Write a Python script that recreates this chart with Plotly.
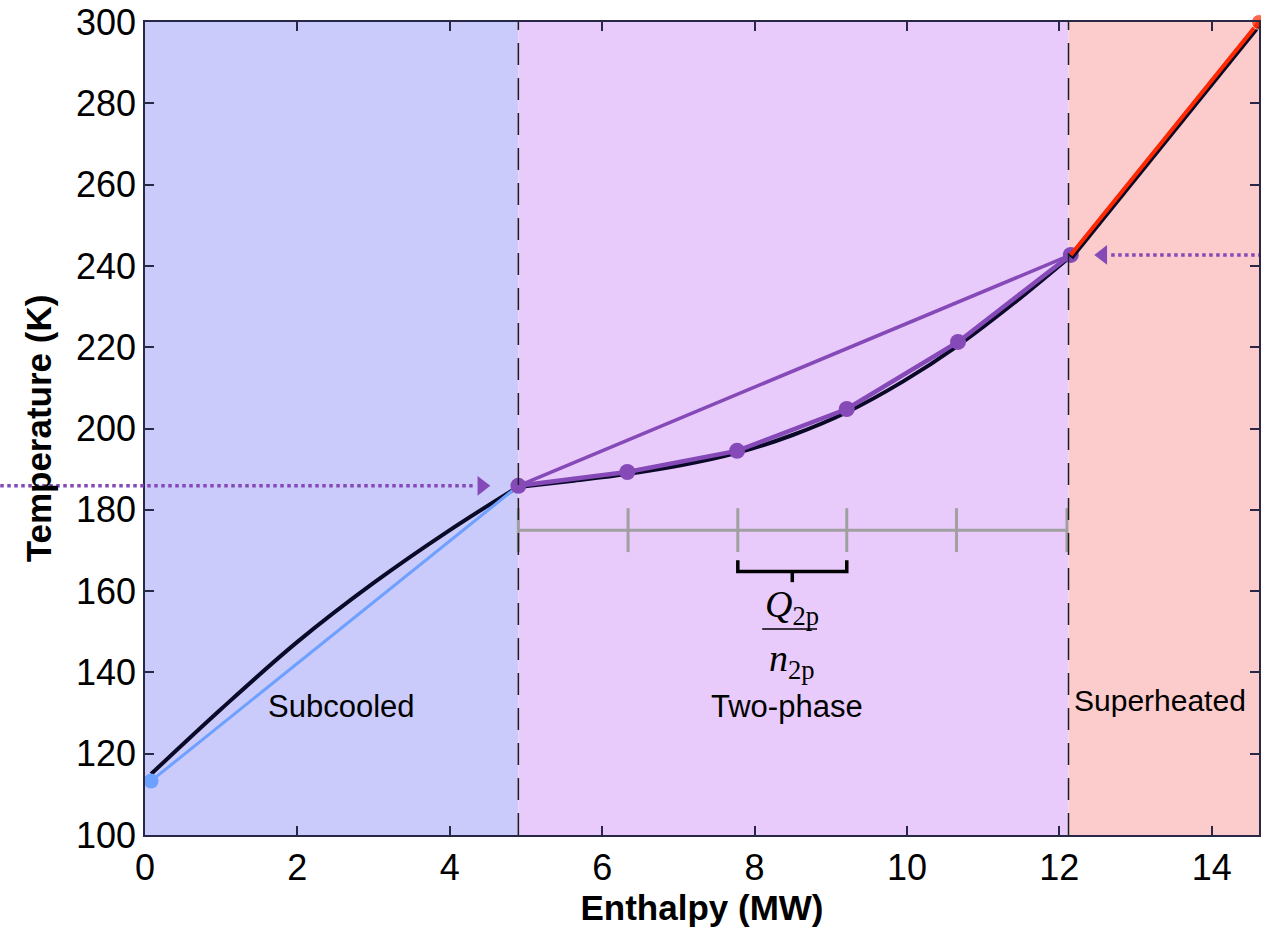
import plotly.graph_objects as go

# --- data ---
x_range = [0, 14.62]
y_range = [100, 300]
x_sub_end = 4.9
x_sup_start = 12.12

sub_line_x = [0.08, 4.9]
sub_line_y = [113.3, 185.9]
sub_curve_x = [0.08, 1.0, 2.0, 3.0, 4.0, 4.9]
sub_curve_y = [115.0, 131.0, 147.5, 162.0, 175.0, 185.7]

tp_x = [4.9, 6.33, 7.77, 9.21, 10.67, 12.15]
tp_y = [185.9, 189.3, 194.5, 204.8, 221.3, 242.7]
tp_curve_x = [4.9, 5.6, 6.33, 7.05, 7.77, 8.5, 9.21, 9.95, 10.67, 11.4, 12.15]
tp_curve_y = [185.6, 187.1, 188.8, 191.0, 194.0, 198.4, 204.0, 211.6, 220.4, 230.8, 242.4]

sh_x = [12.15, 14.62]
sh_y = [242.7, 300.0]

seg_x = [4.9, 6.34, 7.78, 9.21, 10.65, 12.1]
seg_y = 175.0

arrow_left_y = 185.9
arrow_right_y = 242.7

C_SUB = "rgb(202,202,251)"
C_TP = "rgb(232,203,251)"
C_SH = "rgb(252,203,203)"
PURPLE = "rgb(133,73,184)"
BLUE = "rgb(110,160,255)"
RED = "rgb(255,40,0)"
DARK = "rgb(10,10,40)"
GREY = "rgb(160,160,160)"

fig = go.Figure()

# background regions
for x0, x1, c in [(x_range[0], x_sub_end, C_SUB), (x_sub_end, x_sup_start, C_TP), (x_sup_start, x_range[1], C_SH)]:
    fig.add_shape(type="rect", xref="x", yref="y", x0=x0, x1=x1, y0=y_range[0], y1=y_range[1],
                  fillcolor=c, line=dict(width=0), layer="below")

# dashed boundaries
for xv in [x_sub_end, x_sup_start]:
    fig.add_shape(type="line", xref="x", yref="y", x0=xv, x1=xv, y0=y_range[0], y1=y_range[1],
                  line=dict(color="rgb(30,30,30)", width=1.5, dash="22px,13px"))

# segment bar
fig.add_trace(go.Scatter(x=[seg_x[0], seg_x[-1]], y=[seg_y, seg_y], mode="lines",
                         line=dict(color=GREY, width=3), hoverinfo="skip", showlegend=False))
for sx in seg_x:
    fig.add_trace(go.Scatter(x=[sx, sx], y=[seg_y - 5.4, seg_y + 5.4], mode="lines",
                             line=dict(color=GREY, width=3), hoverinfo="skip", showlegend=False))

# brace
bx0, bx1 = seg_x[2], seg_x[3]
fig.add_trace(go.Scatter(x=[bx0, bx0, bx1, bx1], y=[167.6, 164.8, 164.8, 167.6], mode="lines",
                         line=dict(color="black", width=3.5), hoverinfo="skip", showlegend=False))
fig.add_trace(go.Scatter(x=[(bx0 + bx1) / 2] * 2, y=[164.8, 162.2], mode="lines",
                         line=dict(color="black", width=3.5), hoverinfo="skip", showlegend=False))

# subcooled
fig.add_trace(go.Scatter(x=sub_curve_x, y=sub_curve_y, mode="lines", line=dict(color=DARK, width=4, shape="spline"),
                         hoverinfo="skip", showlegend=False))
fig.add_trace(go.Scatter(x=sub_line_x, y=sub_line_y, mode="lines", line=dict(color=BLUE, width=3),
                         hoverinfo="skip", showlegend=False))
fig.add_trace(go.Scatter(x=[sub_line_x[0]], y=[sub_line_y[0]], mode="markers",
                         marker=dict(color=BLUE, size=15), hoverinfo="skip", showlegend=False))

# two-phase
fig.add_trace(go.Scatter(x=tp_curve_x, y=tp_curve_y, mode="lines", line=dict(color=DARK, width=4, shape="spline"),
                         hoverinfo="skip", showlegend=False))
fig.add_trace(go.Scatter(x=[tp_x[0], tp_x[-1]], y=[tp_y[0], tp_y[-1]], mode="lines",
                         line=dict(color=PURPLE, width=3.5), hoverinfo="skip", showlegend=False))
fig.add_trace(go.Scatter(x=tp_x, y=tp_y, mode="lines+markers", line=dict(color=PURPLE, width=4.5),
                         marker=dict(color=PURPLE, size=16), hoverinfo="skip", showlegend=False))

# superheated
fig.add_trace(go.Scatter(x=sh_x, y=[v - 0.6 for v in sh_y], mode="lines", line=dict(color=DARK, width=6),
                         hoverinfo="skip", showlegend=False))
fig.add_trace(go.Scatter(x=sh_x, y=sh_y, mode="lines+markers", line=dict(color=RED, width=4),
                         marker=dict(color=RED, size=[0, 15]), cliponaxis=False, hoverinfo="skip", showlegend=False))

# arrows
xmax = x_range[1]
fig.add_shape(type="line", xref="paper", yref="y", x0=-145 / 1116, x1=4.30 / xmax,
              y0=arrow_left_y, y1=arrow_left_y, line=dict(color=PURPLE, width=3.5, dash="dot"))
fig.add_shape(type="line", xref="paper", yref="y", x0=12.68 / xmax, x1=1.0,
              y0=arrow_right_y, y1=arrow_right_y, line=dict(color=PURPLE, width=3.5, dash="dot"))
fig.add_trace(go.Scatter(x=[4.42], y=[arrow_left_y], mode="markers",
                         marker=dict(symbol="triangle-right", color=PURPLE, size=17), hoverinfo="skip", showlegend=False))
fig.add_trace(go.Scatter(x=[12.57], y=[arrow_right_y], mode="markers",
                         marker=dict(symbol="triangle-left", color=PURPLE, size=17), hoverinfo="skip", showlegend=False))

# fraction
fig.add_shape(type="line", xref="x", yref="y", x0=8.10, x1=8.82, y0=150.7, y1=150.7,
              line=dict(color="black", width=1.5))
serif = "Liberation Serif, Times New Roman, serif"
fig.add_annotation(x=8.49, y=156.0, xref="x", yref="y", showarrow=False,
                   text="<i>Q</i><sub>2p</sub>", font=dict(family=serif, size=38, color="black"))
fig.add_annotation(x=8.49, y=142.8, xref="x", yref="y", showarrow=False,
                   text="<i>n</i><sub>2p</sub>", font=dict(family=serif, size=38, color="black"))

sans = "Liberation Sans, Arial, sans-serif"
fig.add_annotation(x=2.58, y=131.7, xref="x", yref="y", showarrow=False, text="Subcooled",
                   font=dict(family=sans, size=31, color="black"))
fig.add_annotation(x=8.43, y=131.7, xref="x", yref="y", showarrow=False, text="Two-phase",
                   font=dict(family=sans, size=31, color="black"))
fig.add_annotation(x=12.16, y=133.2, xref="x", yref="y", showarrow=False, text="Superheated",
                   xanchor="left", font=dict(family=sans, size=30, color="black"))

axis_common = dict(showline=True, mirror="ticks", linecolor="rgb(40,40,70)", linewidth=1.5,
                   ticks="inside", ticklen=9, tickwidth=1.5, tickcolor="rgb(40,40,70)",
                   showgrid=False, zeroline=False,
                   tickfont=dict(family=sans, size=36, color="black"))

fig.update_layout(
    width=1261, height=928,
    margin=dict(l=145, r=0, t=22, b=93),
    paper_bgcolor="white", plot_bgcolor="white",
    xaxis=dict(range=x_range, tickmode="array", tickvals=list(range(0, 15, 2)),
               title=dict(text="<b>Enthalpy (MW)</b>", font=dict(family=sans, size=35, color="black"), standoff=8),
               **axis_common),
    yaxis=dict(range=y_range, tickmode="array", tickvals=list(range(100, 301, 20)),
               title=dict(text="<b>Temperature (K)</b>", font=dict(family=sans, size=35, color="black"), standoff=14),
               **axis_common),
)

fig.write_html("out.html")
